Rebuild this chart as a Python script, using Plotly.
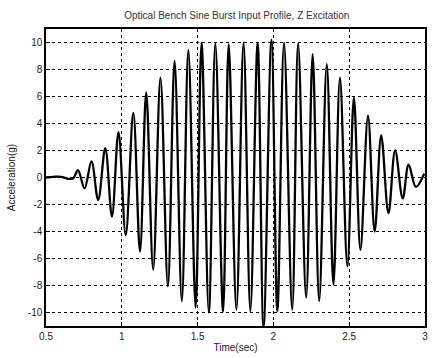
import plotly.graph_objects as go

# Extrema (and lead-in) of the sine burst
time_s = [0.50, 0.55, 0.60, 0.65, 0.68,
          0.711, 0.754, 0.800, 0.844, 0.891, 0.935, 0.978, 1.026, 1.076, 1.120,
          1.161, 1.207, 1.255, 1.304, 1.348, 1.396, 1.439, 1.487, 1.526, 1.574,
          1.617, 1.668, 1.705, 1.756, 1.803, 1.848, 1.896, 1.935, 1.987, 2.026,
          2.070, 2.124, 2.163, 2.216, 2.259, 2.302, 2.352, 2.396, 2.439, 2.488,
          2.531, 2.574, 2.624, 2.668, 2.711, 2.759, 2.803, 2.853, 2.892, 2.940,
          2.995]
accel_g = [0.0, 0.05, 0.05, -0.1, -0.05,
           0.54, -0.81, 1.2, -1.67, 2.18, -2.9, 3.36, -4.25, 4.79, -5.48,
           6.30, -6.83, 7.40, -8.06, 8.64, -9.16, 9.45, -9.65, 9.99, -10.0,
           9.94, -9.94, 9.87, -9.8, 9.99, -9.9, 9.99, -11.1, 10.2, -9.9,
           9.99, -9.8, 9.94, -8.9, 9.13, -9.16, 8.39, -7.93, 7.40, -6.58,
           5.93, -5.35, 4.59, -4.0, 3.12, -2.65, 2.01, -1.55, 0.96, -0.69,
           0.29]

x_ticks = [0.5, 1, 1.5, 2, 2.5, 3]
y_ticks = [-10, -8, -6, -4, -2, 0, 2, 4, 6, 8, 10]

font_family = "Liberation Sans, Arial, sans-serif"

fig = go.Figure()
fig.add_trace(go.Scatter(
    x=time_s, y=accel_g, mode="lines",
    line=dict(color="black", width=2.3, shape="spline", smoothing=1.0),
    showlegend=False, cliponaxis=True,
))

axis_common = dict(
    showline=True, mirror=True, linecolor="black", linewidth=1.5,
    showgrid=True, gridcolor="black", griddash="dot", gridwidth=1,
    ticks="inside", ticklen=4, tickcolor="black",
    zeroline=False,
    tickfont=dict(family=font_family, size=10, color="#222"),
)

fig.update_layout(
    width=433, height=358,
    margin=dict(l=46, r=5, t=29, b=32),
    paper_bgcolor="white", plot_bgcolor="white",
    title=dict(text="Optical Bench Sine Burst Input Profile, Z Excitation",
               x=0.547, xanchor="center", y=0.958, yanchor="middle",
               font=dict(family=font_family, size=10, color="#333")),
    xaxis=dict(range=[0.5, 3], tickvals=x_ticks,
               ticktext=[f"{v:g}" for v in x_ticks],
               title=dict(text="Time(sec)", standoff=3,
                          font=dict(family=font_family, size=10, color="#222")),
               **axis_common),
    yaxis=dict(range=[-11, 11], tickvals=y_ticks,
               ticktext=[f"{v:g}" for v in y_ticks],
               title=dict(text="Acceleration(g)", standoff=10,
                          font=dict(family=font_family, size=10, color="#222")),
               **axis_common),
)

fig.write_html(
    "out.html",
    config={"displayModeBar": False},
    post_script="document.body.style.margin='0';document.body.style.overflow='hidden';",
)
